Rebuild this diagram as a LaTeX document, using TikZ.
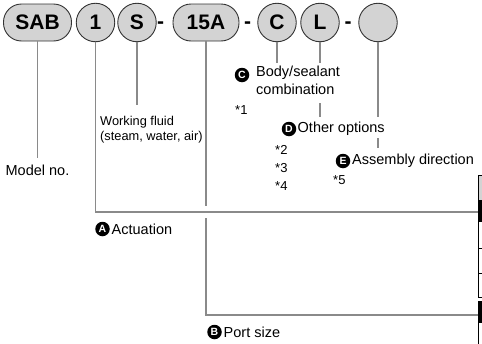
\documentclass[tikz,border=0pt]{standalone}
\usepackage{fontspec}
\setmainfont{Liberation Sans}
\definecolor{pillgray}{HTML}{D3D3D3}
\definecolor{linegray}{HTML}{8A8A8A}
\definecolor{edgegray}{HTML}{333333}
\begin{document}
\begin{tikzpicture}[x=1pt,y=-1pt,
  pill/.style={draw=edgegray, line width=0.9pt, fill=pillgray, rounded corners=18pt,
    minimum height=37pt, inner sep=0pt, font=\fontsize{21}{21}\selectfont\bfseries},
  codecirc/.style={draw=edgegray, line width=0.9pt, fill=pillgray, circle,
    minimum size=38.5pt, inner sep=0pt, font=\fontsize{21}{21}\selectfont\bfseries},
  dashmark/.style={inner sep=0pt, anchor=base, font=\fontsize{21}{21}\selectfont\bfseries},
  conn/.style={draw=linegray, line width=1.2pt},
  lbl/.style={inner sep=0pt, anchor=west, font=\fontsize{14.5}{18}\selectfont},
  small/.style={inner sep=0pt, anchor=west, align=left, font=\fontsize{12.8}{14.5}\selectfont},
  badge/.style={circle, fill=black, text=white, minimum size=14.5pt, inner sep=0pt,
    font=\fontsize{10.5}{10.5}\selectfont\bfseries},
  note/.style={inner sep=0pt, anchor=west, font=\fontsize{13}{13}\selectfont}]
\useasboundingbox (0,0) rectangle (482,343);

% code row
\node[pill, minimum width=68pt] (sab) at (37.5,22.5) {SAB};
\node[codecirc] (one) at (95.5,22.5) {1};
\node[codecirc] (s) at (137,22.5) {S};
\node[dashmark] (d1) at (160.5,28) {-};
\node[pill, minimum width=66pt] (p15) at (206,22.5) {15A};
\node[dashmark] (d2) at (247.5,28) {-};
\node[codecirc] (c) at (277,22.5) {C};
\node[codecirc] (l) at (320,22.5) {L};
\node[dashmark] (d3) at (348,28) {-};
\node[codecirc] (e) at (378,22.5) {};

% labels
\node[lbl, anchor=center] (model) at (37.5,170) {Model no.};
\node[small] (wf) at (100,129.5) {Working fluid\\(steam, water, air)};

\node[badge] (bc) at (242,75) {C};
\node[lbl, anchor=north west, align=left] (body) at (256,66) {Body/sealant\\combination};
\node[note] (n1) at (235,110) {*1};

\node[badge] (bd) at (289,129) {D};
\node[lbl] (other) at (297.5,129) {Other options};
\node[note] (n2) at (275,150) {*2};
\node[note] (n3) at (275,168) {*3};
\node[note] (n4) at (275,186) {*4};

\node[badge] (be) at (343,161) {E};
\node[lbl] (assy) at (352,161) {Assembly direction};
\node[note] (n5) at (333,180) {*5};

\node[badge] (ba) at (102.5,229) {A};
\node[lbl] (act) at (111.5,229) {Actuation};

\node[badge] (bb) at (214.5,332) {B};
\node[lbl] (port) at (223.5,332) {Port size};

% connector end points
\coordinate (modelEnd) at (37.5,158);
\coordinate (sEnd) at (137,105);
\coordinate (cEnd) at (277,63);
\coordinate (lEnd) at (320,63);
\coordinate (lTop) at (320,103);
\coordinate (lBot) at (320,117);
\coordinate (eEnd) at (378,117);
\coordinate (eTop) at (378,138);
\coordinate (eBot) at (378,148);
\coordinate (aCorner) at (95.5,212);
\coordinate (aEnd) at (478,212);
\coordinate (bGapTop) at (206,206);
\coordinate (bGapBot) at (206,218);
\coordinate (bCorner) at (206,315);
\coordinate (bEnd) at (478,315);

% connectors
\draw[conn] (sab) -- (modelEnd);
\draw[conn] (s) -- (sEnd);
\draw[conn] (c) -- (cEnd);
\draw[conn] (l) -- (lEnd);
\draw[conn] (lTop) -- (lBot);
\draw[conn] (e) -- (eEnd);
\draw[conn] (eTop) -- (eBot);
\draw[conn] (one) -- (aCorner) -- (aEnd);
\draw[conn] (p15) -- (bGapTop);
\draw[conn] (bGapBot) -- (bCorner) -- (bEnd);

% table fragments at the right edge
\fill[pillgray] (478,175) rectangle (490,200);
\fill[black] (478,200) rectangle (490,222);
\draw[line width=0.8pt] (478,175) rectangle (490,297);
\draw[line width=0.6pt] (478,248) -- (490,248);
\draw[line width=0.6pt] (478,273) -- (490,273);
\fill[black] (478,301) rectangle (490,323);
\draw[line width=0.8pt] (478,301) rectangle (490,350);
\end{tikzpicture}
\end{document}
